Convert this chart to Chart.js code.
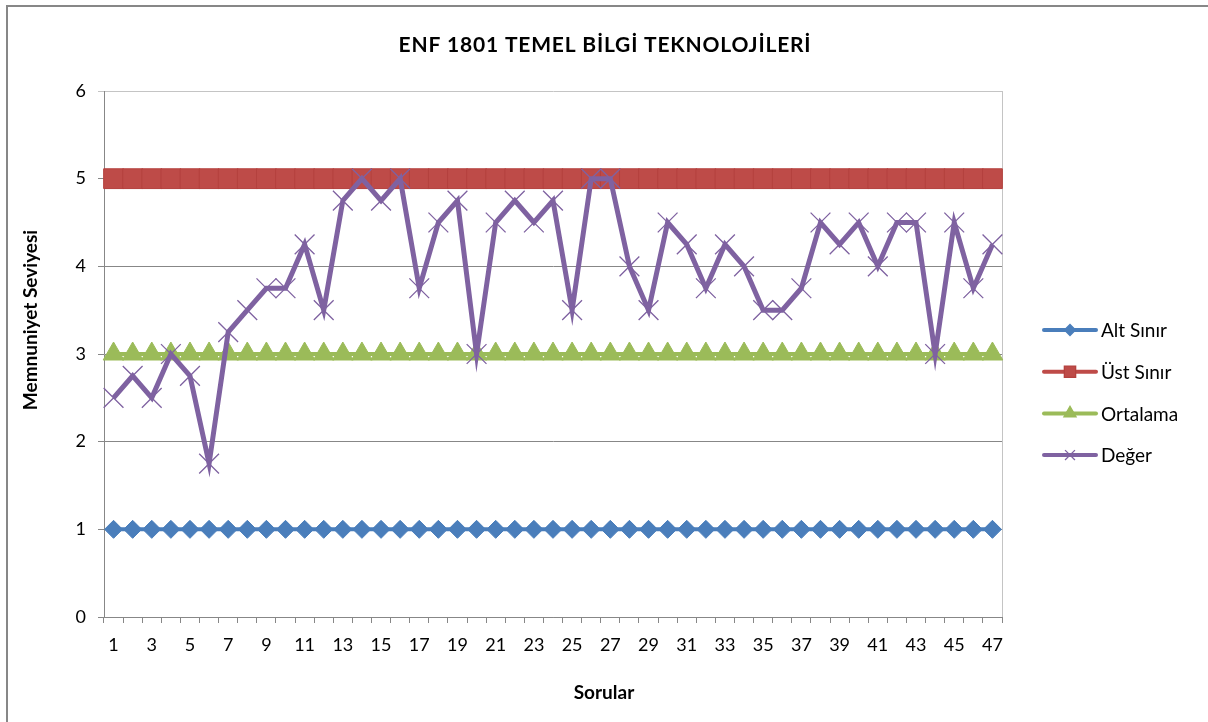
<!DOCTYPE html>
<html>
<head>
<meta charset="utf-8">
<script src="https://cdn.jsdelivr.net/npm/chart.js@4.4.1/dist/chart.umd.min.js"></script>
<style>
  html, body { margin: 0; padding: 0; background: #fff; overflow: hidden; }
  #frame { position: absolute; left: 6px; top: 5px; width: 1300px; height: 800px; border: 2px solid #878787; }
  #wrap  { position: absolute; left: 0; top: 0; width: 1208px; height: 722px; }
</style>
</head>
<body>
<div id="frame"></div>
<div id="wrap"><canvas id="chart" width="1208" height="722"></canvas></div>
<script>
/* ─── Memnuniyet chart — ENF 1801 ───────────────────────────────────────── */

// ─── Data ─────────────────────────────────────────────────────────────────────

const TITLE   = 'ENF 1801 TEMEL BİLGİ TEKNOLOJİLERİ';
const X_TITLE = 'Sorular';
const Y_TITLE = 'Memnuniyet Seviyesi';

const SORULAR = ['1','2','3','4','5','6','7','8','9','10','11','12','13','14','15','16',
  '17','18','19','20','21','22','23','24','25','26','27','28','29','30','31','32',
  '33','34','35','36','37','38','39','40','41','42','43','44','45','46','47'];

const ALT_SINIR = [1,1,1,1,1,1,1,1,1,1,1,1,1,1,1,1,1,1,1,1,1,1,1,1,
  1,1,1,1,1,1,1,1,1,1,1,1,1,1,1,1,1,1,1,1,1,1,1];

const UST_SINIR = [5,5,5,5,5,5,5,5,5,5,5,5,5,5,5,5,5,5,5,5,5,5,5,5,
  5,5,5,5,5,5,5,5,5,5,5,5,5,5,5,5,5,5,5,5,5,5,5];

const ORTALAMA = [3,3,3,3,3,3,3,3,3,3,3,3,3,3,3,3,3,3,3,3,3,3,3,3,
  3,3,3,3,3,3,3,3,3,3,3,3,3,3,3,3,3,3,3,3,3,3,3];

const DEGER = [2.5, 2.75, 2.5, 3, 2.75, 1.75, 3.25, 3.5, 3.75, 3.75, 4.25, 3.5,
  4.75, 5, 4.75, 5, 3.75, 4.5, 4.75, 3, 4.5, 4.75, 4.5, 4.75, 3.5, 5, 5, 4,
  3.5, 4.5, 4.25, 3.75, 4.25, 4, 3.5, 3.5, 3.75, 4.5, 4.25, 4.5, 4, 4.5, 4.5,
  3, 4.5, 3.75, 4.25];

const Y_TICKS = [0, 1, 2, 3, 4, 5, 6];

// ─── Styles ───────────────────────────────────────────────────────────────────

const COLORS = {
  alt:    '#4A7EBB',
  ust:    '#BE4B48',
  ustEdge:'#B4413E',
  ort:    '#9BBB59',
  deger:  '#7F62A1',
  grid:   '#878787',
  gridTop:'#C4C4C4',
  text:   '#000',
};

const FONT = "Lato, 'Open Sans', sans-serif";

// ─── Extras: titles, legend, plot frame ──────────────────────────────────────

const extras = {
  id: 'extras',
  beforeDatasetsDraw(chart) {
    const { ctx, chartArea } = chart;
    ctx.save();
    ctx.strokeStyle = COLORS.gridTop;
    ctx.lineWidth = 1;
    const x = Math.round(chartArea.right) + 0.5;
    ctx.beginPath();
    ctx.moveTo(x, chartArea.top);
    ctx.lineTo(x, chartArea.bottom);
    ctx.stroke();
    ctx.restore();
  },
  afterDraw(chart) {
    const ctx = chart.ctx;
    ctx.save();
    ctx.fillStyle = COLORS.text;
    ctx.textAlign = 'center';
    ctx.textBaseline = 'middle';

    ctx.font = `bold 21px ${FONT}`;
    ctx.letterSpacing = '0.8px';
    ctx.fillText(TITLE, 605, 45);
    ctx.letterSpacing = '0px';

    ctx.font = `bold 19px ${FONT}`;
    ctx.fillText(X_TITLE, 604, 693);
    ctx.save();
    ctx.translate(31, 320);
    ctx.rotate(-Math.PI / 2);
    ctx.fillText(Y_TITLE, 0, 0);
    ctx.restore();

    // legend
    const legendMarks = [
      { pointStyle: 'rectRot',  radius: 5.5 },
      { pointStyle: 'rect',     radius: 8 },
      { pointStyle: 'triangle', radius: 7 },
      { pointStyle: 'crossRot', radius: 7 },
    ];
    ctx.font = `19px ${FONT}`;
    ctx.textAlign = 'left';
    chart.data.datasets.forEach((ds, i) => {
      const y = 330 + i * 41.7;
      ctx.strokeStyle = ds.borderColor;
      ctx.lineWidth = 4;
      ctx.lineCap = 'round';
      ctx.beginPath();
      ctx.moveTo(1044, y);
      ctx.lineTo(1096, y);
      ctx.stroke();
      ctx.lineCap = 'butt';
      ctx.fillStyle = ds.pointBackgroundColor;
      ctx.strokeStyle = ds.pointBorderColor;
      ctx.lineWidth = 1.3;
      Chart.helpers.drawPoint(ctx, { ...legendMarks[i], rotation: 0, borderWidth: 1.3 }, 1070, y);
      ctx.fillStyle = COLORS.text;
      ctx.fillText(ds.label, 1101, y + 1);
    });
    ctx.restore();
  },
};

// ─── Chart ────────────────────────────────────────────────────────────────────

function series(label, data, color, style, radius, extra = {}) {
  return {
    label,
    data,
    borderColor: color,
    backgroundColor: color,
    pointBackgroundColor: color,
    pointBorderColor: color,
    borderWidth: 4,
    pointStyle: style,
    pointRadius: radius,
    pointBorderWidth: 1,
    tension: 0,
    fill: false,
    order: 1,
    ...extra,
  };
}

new Chart(document.getElementById('chart'), {
  type: 'line',
  data: {
    labels: SORULAR,
    datasets: [
      series('Alt Sınır', ALT_SINIR, COLORS.alt, 'rectRot', 9),
      series('Üst Sınır', UST_SINIR, COLORS.ust, 'rect', 14, { pointBorderColor: COLORS.ustEdge }),
      series('Ortalama', ORTALAMA, COLORS.ort, 'triangle', 12),
      series('Değer', DEGER, COLORS.deger, 'crossRot', 14,
        { borderWidth: 5, pointBorderWidth: 1.3, order: 0 }),
    ],
  },
  options: {
    responsive: false,
    animation: false,
    devicePixelRatio: 1,
    layout: { padding: { left: 54, right: 206, top: 91, bottom: 65 } },
    plugins: {
      legend: { display: false },
      tooltip: { enabled: false },
      title: { display: false },
    },
    scales: {
      x: {
        offset: true,
        afterFit: s => { s.height = 40; },
        grid: { offset: true, drawOnChartArea: false, drawTicks: true, tickLength: 6, color: COLORS.grid },
        border: { color: COLORS.grid, width: 1 },
        ticks: {
          autoSkip: false,
          maxRotation: 0,
          padding: 11,
          color: COLORS.text,
          font: { family: FONT, size: 18 },
          callback: (v, i) => (i % 2 === 0 ? SORULAR[i] : ''),
        },
      },
      y: {
        min: Y_TICKS[0],
        max: Y_TICKS[Y_TICKS.length - 1],
        afterFit: s => { s.width = 50; },
        afterBuildTicks: s => { s.ticks = Y_TICKS.map(v => ({ value: v })); },
        grid: {
          color: c => (c.tick && c.tick.value === 6 ? COLORS.gridTop : COLORS.grid),
          tickLength: 6,
        },
        border: { color: COLORS.grid, width: 1 },
        ticks: {
          padding: 12,
          color: COLORS.text,
          font: { family: FONT, size: 18 },
        },
      },
    },
  },
  plugins: [extras],
});
</script>
</body>
</html>
